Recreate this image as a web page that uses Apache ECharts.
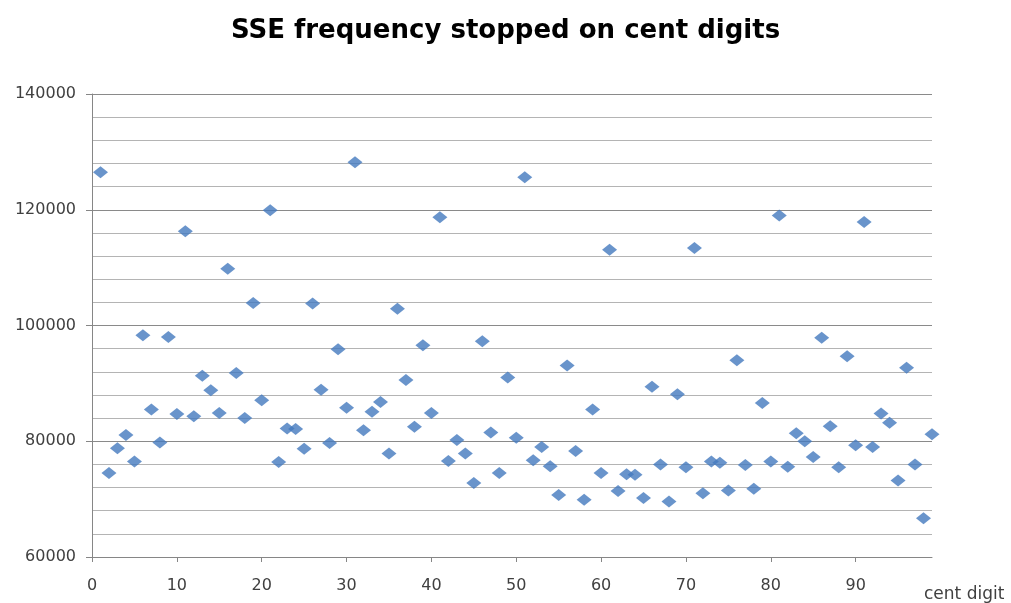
<!DOCTYPE html>
<html>
<head>
<meta charset="utf-8">
<script src="https://cdn.jsdelivr.net/npm/echarts@6/dist/echarts.min.js"></script>
<style>
  html, body { margin: 0; padding: 0; background: #fff; }
  #chart { width: 1011px; height: 603px; }
</style>
</head>
<body>
<div id="chart"></div>
<script>
// cent digits 1..99
var centDigits = [];
for (var d = 1; d <= 99; d++) centDigits.push(d);

// frequency, one per cent digit
var frequency = [
  126500, 74500, 78800, 81100, 76500, 98300, 85500, 79800, 98000, 84700,
  116300, 84300, 91300, 88800, 84900, 109800, 91800, 84000, 103900, 87100,
  119900, 76400, 82200, 82100, 78700, 103800, 88900, 79700, 95900, 85800,
  128200, 81900, 85100, 86800, 77900, 102900, 90600, 82500, 96600, 84900,
  118700, 76600, 80200, 77900, 72800, 97300, 81500, 74500, 91000, 80600,
  125600, 76700, 79000, 75700, 70700, 93100, 78300, 69900, 85500, 74500,
  113100, 71400, 74300, 74200, 70200, 89400, 76000, 69600, 88100, 75500,
  113400, 71000, 76500, 76300, 71500, 94000, 75900, 71800, 86600, 76500,
  119000, 75600, 81400, 80000, 77300, 97900, 82600, 75500, 94700, 79300,
  117900, 79000, 84800, 83200, 73200, 92700, 76000, 66700, 81200
];

var xTicks = [0, 10, 20, 30, 40, 50, 60, 70, 80, 90];
var yTicks = [60000, 80000, 100000, 120000, 140000];

var points = centDigits.map(function (c, i) { return [c, frequency[i]]; });

var chart = echarts.init(document.getElementById("chart"));
chart.setOption({
  backgroundColor: "#ffffff",
  animation: false,
  title: {
    text: "SSE frequency stopped on cent digits",
    left: "center",
    top: 13,
    textStyle: {
      fontFamily: "DejaVu Sans",
      fontWeight: "bold",
      fontSize: 26,
      color: "#000"
    }
  },
  grid: { left: 92, right: 79, top: 94, bottom: 45 },
  xAxis: {
    type: "value",
    min: 0,
    max: 99,
    interval: 10,
    name: "cent digit",
    nameLocation: "end",
    nameGap: -8,
    nameTextStyle: {
      fontFamily: "DejaVu Sans",
      fontSize: 17,
      color: "#404040",
      align: "left",
      verticalAlign: "top",
      padding: [29, 0, 0, 0]
    },
    axisLine: { show: true, lineStyle: { color: "#868686", width: 1 } },
    axisTick: { show: true, length: 5, lineStyle: { color: "#868686" } },
    axisLabel: {
      showMaxLabel: false,
      margin: 21,
      fontFamily: "DejaVu Sans",
      fontSize: 16,
      color: "#404040",
      formatter: function (v) { return xTicks.indexOf(v) >= 0 ? String(v) : ""; }
    },
    splitLine: { show: false }
  },
  yAxis: [
    {
      // minor gridlines every 4000
      type: "value",
      min: 60000,
      max: 140000,
      interval: 4000,
      axisLine: { show: false },
      axisTick: { show: false },
      axisLabel: { show: false },
      splitLine: { show: true, lineStyle: { color: "#b4b4b4", width: 1 } }
    },
    {
      // major gridlines, ticks and labels every 20000
      type: "value",
      position: "left",
      min: 60000,
      max: 140000,
      interval: 20000,
      axisLine: { show: true, lineStyle: { color: "#868686", width: 1 } },
      axisTick: { show: true, length: 6, lineStyle: { color: "#868686" } },
      axisLabel: {
        margin: 16,
        fontFamily: "DejaVu Sans",
        fontSize: 16,
        color: "#404040",
        formatter: function (v) { return yTicks.indexOf(v) >= 0 ? String(v) : ""; }
      },
      splitLine: { show: true, lineStyle: { color: "#8a8a8a", width: 1 } }
    }
  ],
  series: [
    {
      type: "scatter",
      yAxisIndex: 0,
      symbol: "diamond",
      symbolSize: [15, 12],
      itemStyle: { color: "#4479be" },
      data: points
    }
  ]
});
</script>
</body>
</html>
